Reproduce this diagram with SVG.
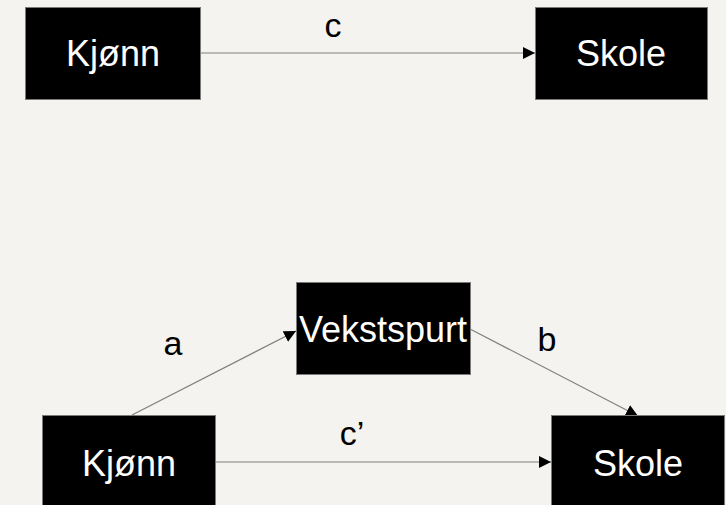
<svg xmlns="http://www.w3.org/2000/svg" width="726" height="505" viewBox="0 0 726 505">
<style>
.box{fill:#000;stroke:#7a7a7a;stroke-width:1}
.nt{fill:#fff;font-family:"Liberation Sans",Arial,sans-serif;font-size:36px;text-anchor:middle}
.lbl{fill:#000;font-family:"Liberation Sans",Arial,sans-serif;font-size:34px;text-anchor:middle}
.con{stroke:#808080;stroke-width:1.2;fill:none;marker-end:url(#ah)}
</style>
<defs>
<marker id="ah" markerUnits="userSpaceOnUse" markerWidth="12" markerHeight="12" refX="12" refY="6" orient="auto">
<path d="M0,0 L12,6 L0,12 z" fill="#000"/>
</marker>
</defs>
<rect width="726" height="505" fill="#f4f3ef"/>
<g id="connectors">
<line class="con" x1="200" y1="53" x2="535" y2="53"/>
<line class="con" x1="132" y1="415" x2="296" y2="331"/>
<line class="con" x1="470" y1="329" x2="638" y2="416"/>
<line class="con" x1="215" y1="462" x2="551" y2="462"/>
</g>
<g id="labels">
<text class="lbl" x="333" y="37">c</text>
<text class="lbl" x="173" y="355">a</text>
<text class="lbl" x="547" y="351">b</text>
<text class="lbl" x="352" y="445">c’</text>
</g>
<g id="kjonn-top">
<rect class="box" x="25.5" y="7.5" width="175" height="92"/>
<text class="nt" x="113" y="66">Kjønn</text>
</g>
<g id="skole-top">
<rect class="box" x="535.5" y="7.5" width="172" height="92"/>
<text class="nt" x="621" y="66">Skole</text>
</g>
<g id="vekstspurt">
<rect class="box" x="296.5" y="282.5" width="174" height="92"/>
<text class="nt" x="383" y="342">Vekstspurt</text>
</g>
<g id="kjonn-bottom">
<rect class="box" x="42.5" y="415.5" width="173" height="92"/>
<text class="nt" x="129" y="476">Kjønn</text>
</g>
<g id="skole-bottom">
<rect class="box" x="551.5" y="415.5" width="173" height="92"/>
<text class="nt" x="638" y="476">Skole</text>
</g>
</svg>
